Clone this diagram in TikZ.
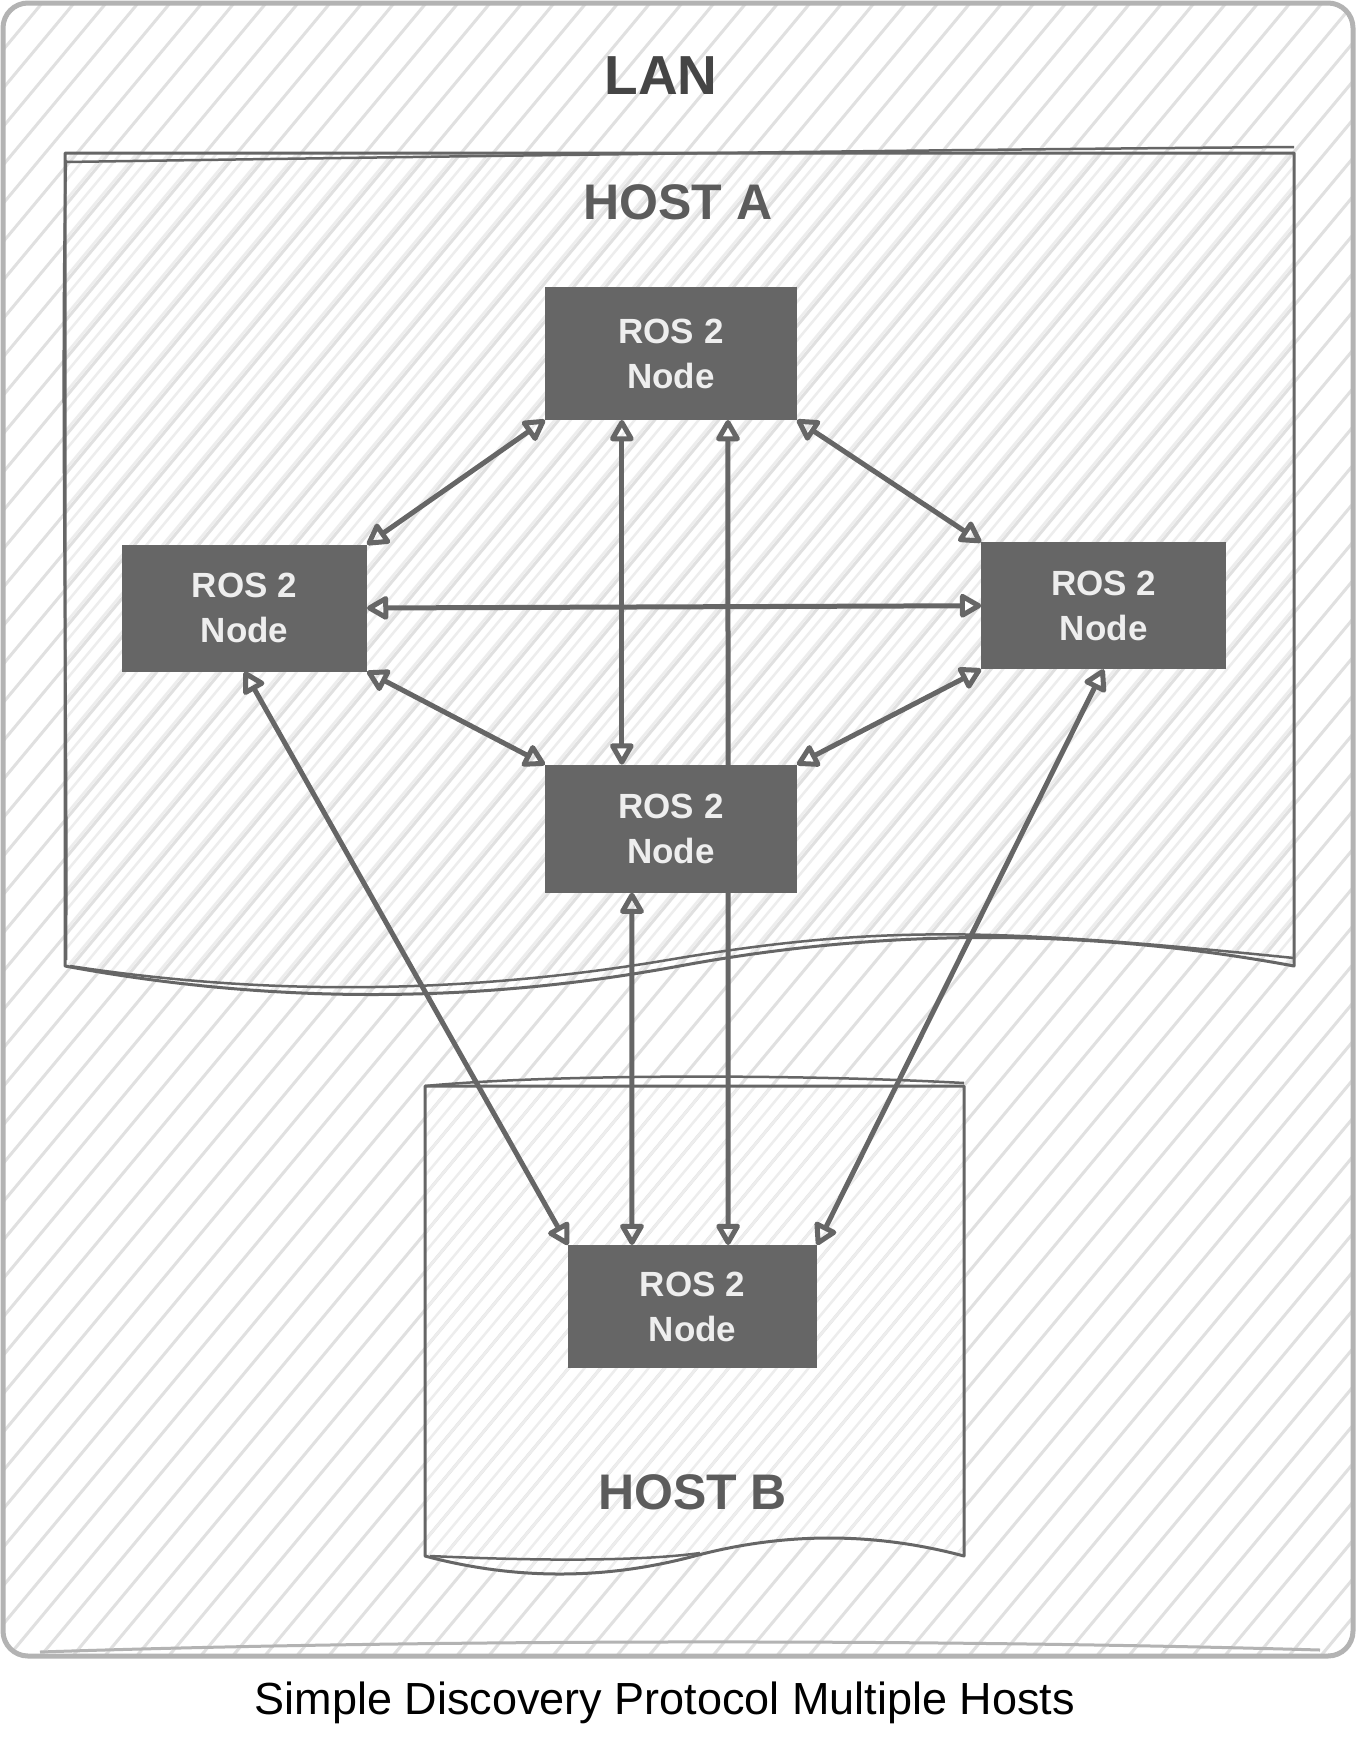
\documentclass[tikz,border=0pt]{standalone}
\usepackage{fontspec}
\setmainfont{Liberation Sans}
\usetikzlibrary{arrows.meta,calc}
\pgfdeclarelayer{back}
\pgfdeclarelayer{mid}
\pgfsetlayers{back,mid,main}
\definecolor{nodegray}{HTML}{666666}
\definecolor{lanedge}{HTML}{B3B3B3}
\definecolor{hatchL}{HTML}{E0E0E0}
\definecolor{hatchH}{HTML}{EDEDED}
\definecolor{nodetext}{HTML}{EEEEEE}
\definecolor{lantext}{HTML}{454545}
\definecolor{hosttext}{HTML}{5C5C5C}
\begin{document}
\begin{tikzpicture}[x=1pt,y=-1pt,
  rosnode/.style={fill=nodegray, draw=nodegray, line width=3pt, text=nodetext,
    font=\fontsize{35}{45}\selectfont\bfseries, align=center, inner sep=0pt},
  link/.style={draw=nodegray, line width=5pt, line join=round,
    {Triangle[open,length=24pt,width=26pt,round]}-{Triangle[open,length=24pt,width=26pt,round]}},
  hostedge/.style={draw=nodegray, line width=3pt, line join=round},
  hosttitle/.style={font=\fontsize{50}{60}\selectfont\bfseries, text=hosttext, inner sep=0pt},
  lanhatch/.style={draw=hatchL, line width=3pt},
  hosthatch/.style={draw=hatchH, line width=2.5pt}]
\useasboundingbox (0,0) rectangle (1356,1743);

% ---------- nodes ----------
\node[rosnode, minimum width=249pt, minimum height=130pt] (top) at (671,353.5) {ROS 2\\Node};
\node[rosnode, minimum width=242pt, minimum height=124pt] (left) at (244.5,608) {ROS 2\\Node};
\node[rosnode, minimum width=242pt, minimum height=124pt] (right) at (1103.7,605.7) {ROS 2\\Node};
\node[rosnode, minimum width=249pt, minimum height=125pt] (middle) at (671,828.6) {ROS 2\\Node};
\node[rosnode, minimum width=246pt, minimum height=120pt] (bottom) at (692.5,1306.5) {ROS 2\\Node};

% ---------- labels ----------
\node[font=\fontsize{55}{66}\selectfont\bfseries, text=lantext, inner sep=0pt] (lan) at (661,76) {LAN};
\node[hosttitle] (hosta) at (678,202) {HOST A};
\node[hosttitle] (hostb) at (692.5,1492) {HOST B};
\node[font=\fontsize{45}{54}\selectfont, inner sep=0pt] (caption) at (665,1703) {Simple Discovery Protocol Multiple Hosts};

% ---------- background: LAN and hosts ----------
\begin{pgfonlayer}{back}
  \fill[white] (0,0) rectangle (1356,1743);
  \begin{scope}
    \clip[rounded corners=25pt] (3,3) rectangle (1353,1656);
    \foreach \i in {-1500,-1468,...,1400}
      \draw[lanhatch] (\i,1700) -- ++(1450,-1740);
  \end{scope}
  \draw[lanedge, line width=5pt, rounded corners=25pt] (3,3) rectangle (1353,1656);
  \draw[lanedge, line width=3pt] (40,1652) .. controls (400,1640) and (900,1638) .. (1320,1650);

  % HOST A
  \begin{scope}
    \clip (65,153) -- (1294,153) -- (1294,966)
      .. controls (1089.2,928) and (884.3,928) .. (679.5,966)
      .. controls (474.7,1004) and (269.8,1004) .. (65,966) -- cycle;
    \foreach \i in {-1500,-1484,...,1400}
      \draw[hosthatch] (\i,1100) -- ++(1000,-1200);
  \end{scope}
  \draw[hostedge] (65,153) -- (1294,153) -- (1294,966)
      .. controls (1089.2,928) and (884.3,928) .. (679.5,966)
      .. controls (474.7,1004) and (269.8,1004) .. (65,966) -- cycle;
  \draw[nodegray, line width=2.5pt] (65,162) .. controls (400,157) and (900,150) .. (1294,147);
  \draw[nodegray, line width=2.5pt] (70,966) .. controls (260,995) and (460,996) .. (679.5,958)
      .. controls (880,925) and (1000,928) .. (1294,958);
  \draw[nodegray, line width=2.5pt] (66,160) .. controls (60,400) and (68,700) .. (66,960);

  % HOST B
  \begin{scope}
    \clip (425,1086) -- (964,1086) -- (964,1556)
      .. controls (874.2,1532) and (784.3,1532) .. (694.5,1556)
      .. controls (604.7,1580) and (514.8,1580) .. (425,1556) -- cycle;
    \foreach \i in {-1500,-1484,...,1400}
      \draw[hosthatch] (\i,1700) -- ++(1000,-1200);
  \end{scope}
  \draw[hostedge] (425,1086) -- (964,1086) -- (964,1556)
      .. controls (874.2,1532) and (784.3,1532) .. (694.5,1556)
      .. controls (604.7,1580) and (514.8,1580) .. (425,1556) -- cycle;
  \draw[nodegray, line width=2.5pt] (425,1086) .. controls (550,1074) and (800,1074) .. (964,1083);
  \draw[nodegray, line width=2.5pt] (430,1556) .. controls (560,1562) and (650,1560) .. (700,1553);
\end{pgfonlayer}

% ---------- connectors ----------
\begin{pgfonlayer}{mid}
  \draw[link] (top.south west) -- (left.north east);
  \draw[link] (top.south east) -- (right.north west);
  \draw[link] ($(top.south west)!0.305!(top.south east)$) -- ($(middle.north west)!0.305!(middle.north east)$);
  \draw[link] ($(top.south west)!0.726!(top.south east)$) -- ($(bottom.north west)!0.643!(bottom.north east)$);
  \draw[link] (left.east) -- (right.west);
  \draw[link] (left.south east) -- (middle.north west);
  \draw[link] (right.south west) -- (middle.north east);
  \draw[link] ($(middle.south west)!0.345!(middle.south east)$) -- ($(bottom.north west)!0.257!(bottom.north east)$);
  \draw[link] (left.south) -- (bottom.north west);
  \draw[link] (right.south) -- (bottom.north east);
\end{pgfonlayer}
\end{tikzpicture}
\end{document}
